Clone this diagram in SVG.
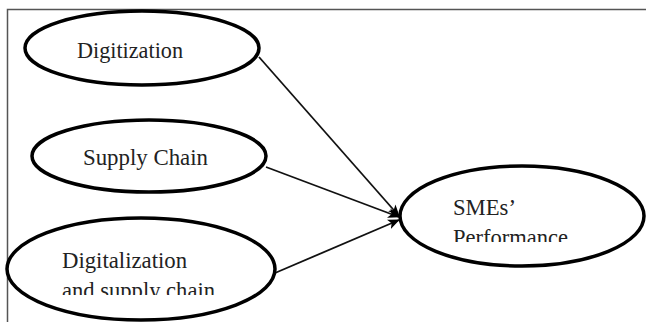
<svg xmlns="http://www.w3.org/2000/svg" width="646" height="322" viewBox="0 0 646 322">
<style>
.n{fill:#fff;stroke:#000;stroke-width:3.5}
.t{font-family:'Liberation Serif','Times New Roman',Times,serif;font-size:24px;fill:#222}
.c{stroke:#111;stroke-width:1.8;fill:none}
</style>
<defs>
<marker id="ah" viewBox="0 0 12 10" refX="11" refY="5" markerWidth="12" markerHeight="10" orient="auto" markerUnits="userSpaceOnUse">
<path d="M0,0 L12,5 L0,10 L3,5 Z" fill="#000"/>
</marker>
<clipPath id="c3"><rect x="0" y="0" width="646" height="295"/></clipPath>
<clipPath id="c4"><rect x="0" y="0" width="646" height="242"/></clipPath>
</defs>
<rect width="646" height="322" fill="#fff"/>
<path d="M7.5,322 V9.5 H646" fill="none" stroke="#555" stroke-width="1.5"/>
<g id="connectors">
<line class="c" x1="259" y1="57" x2="399" y2="216" marker-end="url(#ah)"/>
<line class="c" x1="266" y1="167" x2="399" y2="217" marker-end="url(#ah)"/>
<line class="c" x1="275" y1="273" x2="399" y2="220" marker-end="url(#ah)"/>
</g>
<g id="digitization">
<ellipse class="n" cx="142" cy="48" rx="117" ry="37"/>
<text class="t" x="77" y="58" textLength="106" lengthAdjust="spacingAndGlyphs">Digitization</text>
</g>
<g id="supply-chain">
<ellipse class="n" cx="149" cy="156" rx="117" ry="36"/>
<text class="t" x="83" y="165" textLength="125" lengthAdjust="spacingAndGlyphs">Supply Chain</text>
</g>
<g id="digitalization-supply-chain">
<ellipse class="n" cx="141" cy="269" rx="134" ry="51"/>
<text class="t" x="62" y="268" textLength="125" lengthAdjust="spacingAndGlyphs">Digitalization</text>
<text class="t" x="62" y="298" textLength="153" lengthAdjust="spacingAndGlyphs" clip-path="url(#c3)">and supply chain</text>
</g>
<g id="smes-performance">
<ellipse class="n" cx="522" cy="216" rx="122" ry="50"/>
<text class="t" x="453" y="215" textLength="63" lengthAdjust="spacingAndGlyphs">SMEs’</text>
<text class="t" x="453" y="245" textLength="115" lengthAdjust="spacingAndGlyphs" clip-path="url(#c4)">Performance</text>
</g>
</svg>
